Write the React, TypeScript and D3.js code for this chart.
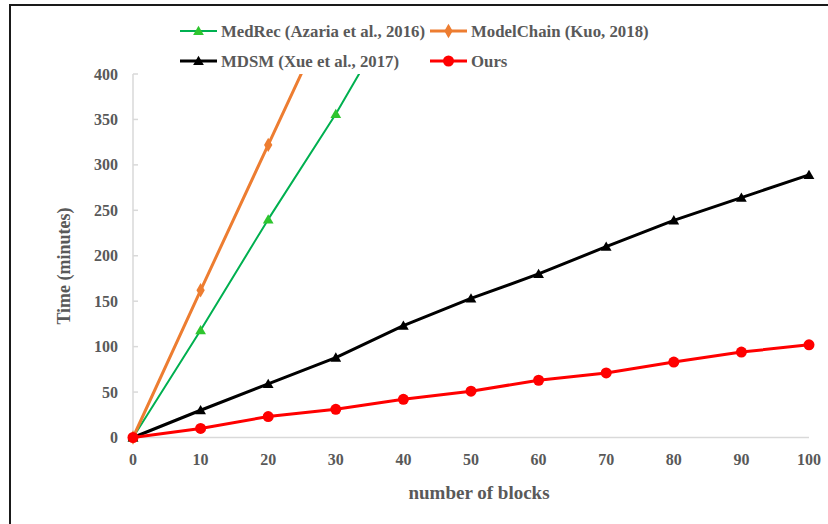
import React from "react";
import * as d3 from "d3";

const blocks = [0, 10, 20, 30, 40, 50, 60, 70, 80, 90, 100];
const medRecValues = [0, 118, 240, 356, 484];
const modelChainValues = [0, 162, 322, 482];
const mdsmValues = [0, 30, 59, 88, 123, 153, 180, 210, 239, 264, 289];
const oursValues = [0, 10, 23, 31, 42, 51, 63, 71, 83, 94, 102];
const xTicks = [0, 10, 20, 30, 40, 50, 60, 70, 80, 90, 100];
const yTicks = [0, 50, 100, 150, 200, 250, 300, 350, 400];

const seriesNames = [
  "MedRec (Azaria et al., 2016)",
  "ModelChain (Kuo, 2018)",
  "MDSM (Xue et al., 2017)",
  "Ours",
];

type Series = {
  name: string;
  values: number[];
  color: string;
  markerColor: string;
  width: number;
  marker: "triangle" | "diamond" | "circle";
};

const series: Series[] = [
  { name: seriesNames[0], values: medRecValues, color: "#00B050", markerColor: "#2EC52E", width: 2, marker: "triangle" },
  { name: seriesNames[1], values: modelChainValues, color: "#ED7D31", markerColor: "#ED7D31", width: 3, marker: "diamond" },
  { name: seriesNames[2], values: mdsmValues, color: "#000000", markerColor: "#000000", width: 3, marker: "triangle" },
  { name: seriesNames[3], values: oursValues, color: "#FF0000", markerColor: "#FF0000", width: 3, marker: "circle" },
];

const W = 828;
const H = 524;
const plot = { left: 133, right: 809, top: 74, bottom: 437.5 };
const FONT = "'Liberation Serif', 'Times New Roman', serif";
const TEXT = "#595959";

function Marker({ kind, x, y, color }: { kind: string; x: number; y: number; color: string }) {
  if (kind === "circle") return <circle cx={x} cy={y} r={5.5} fill={color} />;
  const sym =
    kind === "triangle"
      ? d3.symbol().type(d3.symbolTriangle).size(50)
      : d3.symbol().type(d3.symbolDiamond).size(60);
  return <path d={sym() || ""} transform={`translate(${x},${y + (kind === "triangle" ? 1 : 0)})`} fill={color} />;
}

export default function App() {
  const x = d3.scaleLinear().domain([0, 100]).range([plot.left, plot.right]);
  const y = d3.scaleLinear().domain([0, 400]).range([plot.bottom, plot.top]);
  const line = d3
    .line<number>()
    .x((_, i) => x(blocks[i]))
    .y((v) => y(v));

  const legendItems = [
    { s: series[0], lx: 180, ly: 31 },
    { s: series[1], lx: 430, ly: 31 },
    { s: series[2], lx: 180, ly: 61 },
    { s: series[3], lx: 430, ly: 61 },
  ];

  return (
    <svg
      width={W}
      height={H}
      style={{ position: "absolute", left: 0, top: 0, background: "#fff" }}
      fontFamily={FONT}
    >
      <rect x={0} y={0} width={W} height={H} fill="#fff" />
      <path d={`M10,${H + 5} L10,5 L${W + 5},5`} fill="none" stroke="#1a1a1a" strokeWidth={2} />

      <defs>
        <clipPath id="plotClip">
          <rect x={plot.left - 10} y={plot.top} width={plot.right - plot.left + 20} height={plot.bottom - plot.top + 10} />
        </clipPath>
      </defs>

      <line x1={plot.left} x2={plot.left} y1={plot.top} y2={plot.bottom} stroke="#D9D9D9" strokeWidth={1.5} />
      <line x1={plot.left} x2={plot.right} y1={plot.bottom} y2={plot.bottom} stroke="#D9D9D9" strokeWidth={1.5} />
      {yTicks.map((t) => (
        <g key={`yt${t}`}>
          <line x1={plot.left} x2={plot.left + 5} y1={y(t)} y2={y(t)} stroke="#D9D9D9" strokeWidth={1.5} />
          <text x={118} y={y(t)} dy="0.35em" textAnchor="end" fontSize={16} fontWeight="bold" fill={TEXT}>
            {t}
          </text>
        </g>
      ))}
      {xTicks.map((t) => (
        <text key={`xt${t}`} x={x(t)} y={459} dy="0.35em" textAnchor="middle" fontSize={16} fontWeight="bold" fill={TEXT}>
          {t}
        </text>
      ))}
      <text x={479} y={492} dy="0.35em" textAnchor="middle" fontSize={19} fontWeight="bold" fill={TEXT}>
        number of blocks
      </text>
      <text
        transform={`translate(64,266) rotate(-90)`}
        dy="0.35em"
        textAnchor="middle"
        fontSize={18}
        fontWeight="bold"
        fill={TEXT}
      >
        Time (minutes)
      </text>

      <g clipPath="url(#plotClip)">
        {series.map((s) => (
          <g key={s.name}>
            <path d={line(s.values) || ""} fill="none" stroke={s.color} strokeWidth={s.width} strokeLinejoin="round" />
            {s.values.map((v, i) =>
              v <= 400 ? <Marker key={i} kind={s.marker} x={x(blocks[i])} y={y(v)} color={s.markerColor} /> : null
            )}
          </g>
        ))}
      </g>

      {legendItems.map(({ s, lx, ly }) => (
        <g key={`lg${s.name}`}>
          <line x1={lx} x2={lx + 37} y1={ly} y2={ly} stroke={s.color} strokeWidth={s.width} />
          <Marker kind={s.marker} x={lx + 18.5} y={ly} color={s.markerColor} />
          <text x={lx + 41} y={ly} dy="0.35em" fontSize={16.8} fontWeight="bold" fill={TEXT}>
            {s.name}
          </text>
        </g>
      ))}
    </svg>
  );
}
